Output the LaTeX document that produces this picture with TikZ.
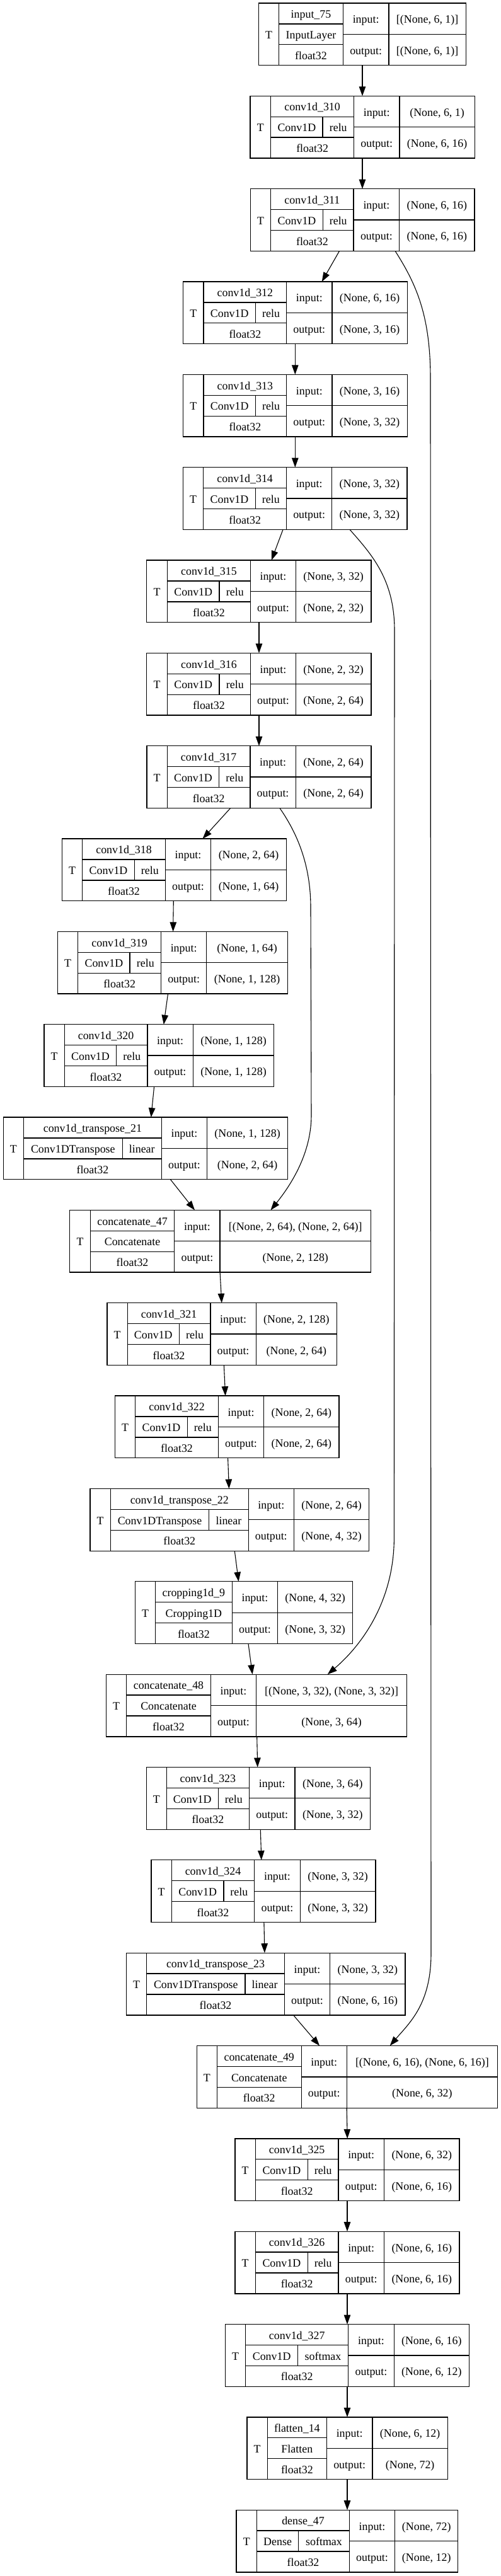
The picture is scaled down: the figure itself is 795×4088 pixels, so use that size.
\documentclass[tikz,border=0pt]{standalone}
\usepackage{fontspec}
\setmainfont{Liberation Serif}
\usetikzlibrary{arrows.meta}
\tikzset{
  cellline/.style={line width=1.3pt, draw=black},
  outerbox/.style={rectangle, draw=black, line width=1.3pt, inner sep=0pt, outer sep=0pt},
  txt/.style={anchor=base, inner sep=0pt, font=\fontsize{17.9}{20}\selectfont},
  edge/.style={line width=1.1pt, draw=black, -{Triangle[length=15pt,width=10.5pt]}},
}
\def\parsecoords#1/#2/#3/#4/#5/#6\relax{\def\cL{#1}\def\cT{#2}\def\cD{#3}\def\cN{#4}\def\cB{#5}\def\cR{#6}}
\def\parseca#1|#2\relax{\def\tclass{#1}\def\tact{#2}}
\def\parseio#1|#2\relax{\def\tin{#1}\def\tout{#2}}
\newcommand\layer[6]{%
  \parsecoords#3\relax\parseca#5\relax\parseio#6\relax
  \pgfmathsetmacro\yt{5+147.34*#2}%
  \pgfmathsetmacro\lh{98.7}%
  \pgfmathsetmacro\yb{\yt+\lh}%
  \pgfmathsetmacro\ya{\yt+\lh/3}%
  \pgfmathsetmacro\yc{\yt+2*\lh/3}%
  \pgfmathsetmacro\ym{\yt+\lh/2}%
  \pgfmathsetmacro\lw{\cR-\cL}%
  \pgfmathsetmacro\xc{(\cL+\cR)/2}%
  \node[outerbox, minimum width=\lw pt, minimum height=\lh pt] (#1) at (\xc,\ym) {};
  \draw[cellline] (\cT,\yt) -- (\cT,\yb) (\cN,\yt) -- (\cN,\yb) (\cB,\yt) -- (\cB,\yb)
     (\cT,\ya) -- (\cN,\ya) (\cT,\yc) -- (\cN,\yc) (\cN,\ym) -- (\cR,\ym);
  \node[txt] (#1-T) at ({(\cL+\cT)/2},{\ym+7.2}) {T};
  \node[txt] (#1-n) at ({(\cT+\cN)/2},{(\yt+\ya)/2+7.2}) {#4};
  \ifx\cD\empty
    \node[txt] (#1-c) at ({(\cT+\cN)/2},{(\ya+\yc)/2+7.2}) {\tclass};
  \else
    \draw[cellline] (\cD,\ya) -- (\cD,\yc);
    \node[txt] (#1-c) at ({(\cT+\cD)/2},{(\ya+\yc)/2+7.2}) {\tclass};
    \node[txt] (#1-a) at ({(\cD+\cN)/2},{(\ya+\yc)/2+7.2}) {\tact};
  \fi
  \node[txt] (#1-f) at ({(\cT+\cN)/2},{(\yc+\yb)/2+7.2}) {float32};
  \node[txt] (#1-il) at ({(\cN+\cB)/2},{(\yt+\ym)/2+7.2}) {input:};
  \node[txt] (#1-ol) at ({(\cN+\cB)/2},{(\ym+\yb)/2+7.2}) {output:};
  \node[txt] (#1-iv) at ({(\cB+\cR)/2},{(\yt+\ym)/2+7.2}) {\tin};
  \node[txt] (#1-ov) at ({(\cB+\cR)/2},{(\ym+\yb)/2+7.2}) {\tout};
}
\begin{document}
\begin{tikzpicture}[x=1pt,y=-1pt]
\useasboundingbox (0,0) rectangle (795,4088);
\fill[white] (0,0) rectangle (795,4088);
\layer{n0}{0}{410.7/442.7//544.3/617/739.3}{input\_75}{InputLayer|}{[(None, 6, 1)]|[(None, 6, 1)]}
\layer{n1}{1}{397/429.7/512/561.5/634/753.2}{conv1d\_310}{Conv1D|relu}{(None, 6, 1)|(None, 6, 16)}
\layer{n2}{2}{397.4/429.7/512.4/561.1/633.7/753}{conv1d\_311}{Conv1D|relu}{(None, 6, 16)|(None, 6, 16)}
\layer{n3}{3}{290.7/323/405.4/454.7/527/646.2}{conv1d\_312}{Conv1D|relu}{(None, 6, 16)|(None, 3, 16)}
\layer{n4}{4}{290.7/323/405.4/454.7/527/646.2}{conv1d\_313}{Conv1D|relu}{(None, 3, 16)|(None, 3, 32)}
\layer{n5}{5}{290.5/322.8/405.2/454.5/526.8/646}{conv1d\_314}{Conv1D|relu}{(None, 3, 32)|(None, 3, 32)}
\layer{n6}{6}{232.7/265.4/348.1/397.5/469.4/589}{conv1d\_315}{Conv1D|relu}{(None, 3, 32)|(None, 2, 32)}
\layer{n7}{7}{232.7/265.4/348.1/397.5/469.4/589}{conv1d\_316}{Conv1D|relu}{(None, 2, 32)|(None, 2, 64)}
\layer{n8}{8}{232.9/265.2/347.6/397/469.2/589}{conv1d\_317}{Conv1D|relu}{(None, 2, 64)|(None, 2, 64)}
\layer{n9}{9}{98.7/130.7/213.4/262.4/334.7/454.3}{conv1d\_318}{Conv1D|relu}{(None, 2, 64)|(None, 1, 64)}
\layer{n10}{10}{91.4/123.7/206.1/255.5/327.8/456.4}{conv1d\_319}{Conv1D|relu}{(None, 1, 64)|(None, 1, 128)}
\layer{n11}{11}{70.1/102.2/184.8/233.9/306.3/434.8}{conv1d\_320}{Conv1D|relu}{(None, 1, 128)|(None, 1, 128)}
\layer{n12}{12}{5.4/37.5/194.2/256.3/328.6/456.7}{conv1d\_transpose\_21}{Conv1DTranspose|linear}{(None, 1, 128)|(None, 2, 64)}
\layer{n13}{13}{110.7/143.3//276.8/349.1/588.4}{concatenate\_47}{Concatenate|}{[(None, 2, 64), (None, 2, 64)]|(None, 2, 128)}
\layer{n14}{14}{170.1/202.2/284.4/333.9/406.3/534.4}{conv1d\_321}{Conv1D|relu}{(None, 2, 128)|(None, 2, 64)}
\layer{n15}{15}{182.6/214.7/297.3/346.4/418.8/538}{conv1d\_322}{Conv1D|relu}{(None, 2, 64)|(None, 2, 64)}
\layer{n16}{16}{142.9/175.4/331.7/394.2/466.5/585.7}{conv1d\_transpose\_22}{Conv1DTranspose|linear}{(None, 2, 64)|(None, 4, 32)}
\layer{n17}{17}{214.7/246.4//368.3/440.6/559.8}{cropping1d\_9}{Cropping1D|}{(None, 4, 32)|(None, 3, 32)}
\layer{n18}{18}{168.4/200.8//334.2/406.7/645.5}{concatenate\_48}{Concatenate|}{[(None, 3, 32), (None, 3, 32)]|(None, 3, 64)}
\layer{n19}{19}{232.3/264.2/346.3/395.5/468/587.7}{conv1d\_323}{Conv1D|relu}{(None, 3, 64)|(None, 3, 32)}
\layer{n20}{20}{239.9/272.3/355/403.7/476.2/595.9}{conv1d\_324}{Conv1D|relu}{(None, 3, 32)|(None, 3, 32)}
\layer{n21}{21}{200.3/232.8/388.9/451.3/523.8/643}{conv1d\_transpose\_23}{Conv1DTranspose|linear}{(None, 3, 32)|(None, 6, 16)}
\layer{n22}{22}{312.4/344.3//478.2/550.2/789.6}{concatenate\_49}{Concatenate|}{[(None, 6, 16), (None, 6, 16)]|(None, 6, 32)}
\layer{n23}{23}{373.1/405.3/488.4/537/609.5/729}{conv1d\_325}{Conv1D|relu}{(None, 6, 32)|(None, 6, 16)}
\layer{n24}{24}{373.1/405.3/488.4/537/609.5/729}{conv1d\_326}{Conv1D|relu}{(None, 6, 16)|(None, 6, 16)}
\layer{n25}{25}{357.5/389.8/472.5/552.6/625.4/744.2}{conv1d\_327}{Conv1D|softmax}{(None, 6, 16)|(None, 6, 12)}
\layer{n26}{26}{392/424.3//518.4/590.9/710.4}{flatten\_14}{Flatten|}{(None, 6, 12)|(None, 72)}
\layer{n27}{27}{375/407.6/473.6/554.5/626.6/726.8}{dense\_47}{Dense|softmax}{(None, 72)|(None, 12)}
% straight connectors
\draw[edge] ([xshift=164.3pt]n0.south west) -- ([xshift=178pt]n1.north west);
\draw[edge] ([xshift=178pt]n1.south west) -- ([xshift=177.6pt]n2.north west);
\draw[edge] ([xshift=141.1pt]n2.south west) -- ([xshift=220pt]n3.north west);
\draw[edge] ([xshift=177.6pt]n3.south west) -- ([xshift=177.6pt]n4.north west);
\draw[edge] ([xshift=177.6pt]n4.south west) -- ([xshift=177.8pt]n5.north west);
\draw[edge] ([xshift=158.5pt]n5.south west) -- ([xshift=198.1pt]n6.north west);
\draw[edge] ([xshift=178.3pt]n6.south west) -- ([xshift=178.3pt]n7.north west);
\draw[edge] ([xshift=178.3pt]n7.south west) -- ([xshift=178.1pt]n8.north west);
\draw[edge] ([xshift=132.8pt]n8.south west) -- ([xshift=222.8pt]n9.north west);
\draw[edge] ([xshift=176.6pt]n9.south west) -- ([xshift=183.2pt]n10.north west);
\draw[edge] ([xshift=175.1pt]n10.south west) -- ([xshift=189.7pt]n11.north west);
\draw[edge] ([xshift=174.5pt]n11.south west) -- ([xshift=234.3pt]n12.north west);
\draw[edge] ([xshift=265.1pt]n12.south west) -- ([xshift=198.3pt]n13.north west);
\draw[edge] ([xshift=238.4pt]n13.south west) -- ([xshift=181.7pt]n14.north west);
\draw[edge] ([xshift=185.3pt]n14.south west) -- ([xshift=175pt]n15.north west);
\draw[edge] ([xshift=179pt]n15.south west) -- ([xshift=220.5pt]n16.north west);
\draw[edge] ([xshift=229.4pt]n16.south west) -- ([xshift=163.9pt]n17.north west);
\draw[edge] ([xshift=179.3pt]n17.south west) -- ([xshift=232.2pt]n18.north west);
\draw[edge] ([xshift=239.3pt]n18.south west) -- ([xshift=176.4pt]n19.north west);
\draw[edge] ([xshift=181pt]n19.south west) -- ([xshift=174.9pt]n20.north west);
\draw[edge] ([xshift=179pt]n20.south west) -- ([xshift=219.6pt]n21.north west);
\draw[edge] ([xshift=265.2pt]n21.south west) -- ([xshift=194.7pt]n22.north west);
\draw[edge] ([xshift=237.8pt]n22.south west) -- ([xshift=178.1pt]n23.north west);
\draw[edge] ([xshift=177.9pt]n23.south west) -- ([xshift=177.9pt]n24.north west);
\draw[edge] ([xshift=177.9pt]n24.south west) -- ([xshift=193.5pt]n25.north west);
\draw[edge] ([xshift=193.5pt]n25.south west) -- ([xshift=159pt]n26.north west);
\draw[edge] ([xshift=159pt]n26.south west) -- ([xshift=176pt]n27.north west);
% skip connectors
\draw[edge] ([xshift=229.7pt]n2.south west) .. controls (660,450) and (683,500) .. (683,600)
   -- (684,3100) .. controls (684,3180) and (650,3210) .. ([xshift=306.3pt]n22.north west);
\draw[edge] ([xshift=264.5pt]n5.south west) .. controls (590,880) and (626,920) .. (626,1000)
   -- (625.4,2440) .. controls (625.4,2540) and (575,2610) .. ([xshift=351.4pt]n18.north west);
\draw[edge] ([xshift=211pt]n8.south west) .. controls (470,1320) and (493,1370) .. (493,1440)
   -- (494,1770) .. controls (494,1830) and (462,1880) .. ([xshift=318.8pt]n13.north west);
\end{tikzpicture}
\end{document}
